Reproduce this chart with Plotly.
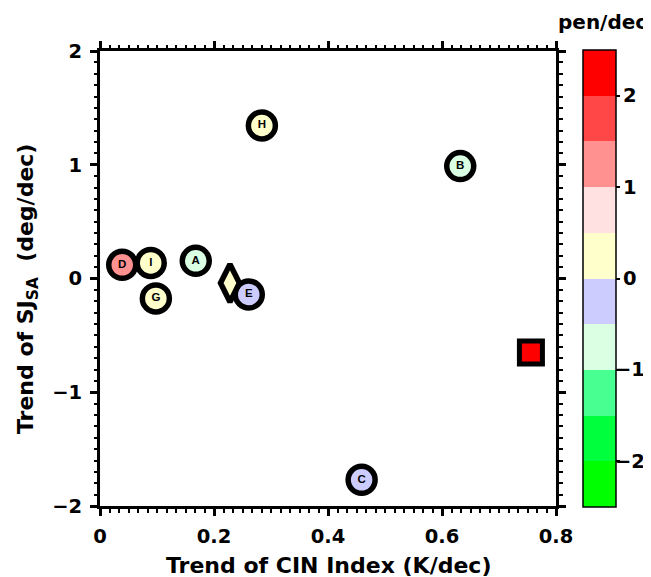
import plotly.graph_objects as go

# Data
circle_labels = ["D", "I", "G", "A", "E", "H", "B", "C"]
circle_x = [0.039, 0.089, 0.098, 0.168, 0.261, 0.284, 0.632, 0.459]
circle_y = [0.12, 0.137, -0.175, 0.155, -0.14, 1.345, 0.988, -1.77]
circle_pen = [1.2, 0.3, 0.2, -0.7, -0.2, 0.35, -0.8, -0.3]

diamond_x = [0.228]
diamond_y = [-0.04]
diamond_pen = [0.25]

square_x = [0.756]
square_y = [-0.65]
square_pen = [2.3]

bin_colors = ["#00FF00", "#00FF3C", "#48FF91", "#DAFFE3", "#CCCCFF",
              "#FFFFCC", "#FFE1E1", "#FF9191", "#FF4747", "#FF0000"]
cbar_ticks = [-2, -1, 0, 1, 2]
cbar_ticktext = ["\u22122", "\u22121", "0", "1", "2"]
x_ticks = [0, 0.2, 0.4, 0.6, 0.8]
x_ticktext = ["0", "0.2", "0.4", "0.6", "0.8"]
y_ticks = [-2, -1, 0, 1, 2]

cmin, cmax = -2.5, 2.5
colorscale = []
n = len(bin_colors)
for i, c in enumerate(bin_colors):
    colorscale.append([i / n, c])
    colorscale.append([(i + 1) / n, c])

FONT = "DejaVu Sans, sans-serif"
LFONT = "Liberation Sans, Arial, sans-serif"

W, H = 643, 569
ML, MR, MT, MB = 92, 95, 43, 71
PW = W - ML - MR
PH = H - MT - MB
CB_LEN = 457


def px(sx):  # screen x (page) -> paper x
    return (sx - (ML + 8)) / PW


def py(sy):  # screen y (page) -> paper y
    return (MT + 8 + PH - sy) / PH


fig = go.Figure()
fig.add_trace(go.Scatter(
    x=circle_x, y=circle_y, mode="markers+text",
    text=circle_labels, textposition="middle center",
    textfont=dict(family=LFONT, size=11.5, color="black", weight="bold"),
    marker=dict(
        symbol="circle", size=27, color=circle_pen, opacity=1,
        colorscale=colorscale, cmin=cmin, cmax=cmax,
        line=dict(color="black", width=5.5),
        showscale=True,
        colorbar=dict(
            tickvals=cbar_ticks, showticklabels=False,
            ticks="outside", ticklen=4, tickwidth=1.5, tickcolor="black",
            thickness=33, lenmode="pixels", len=CB_LEN,
            x=px(583), xanchor="left", y=0.5, yanchor="middle",
            xpad=0, ypad=0, outlinewidth=1.5, outlinecolor="black",
        ),
    ),
    showlegend=False, cliponaxis=False,
))
fig.add_trace(go.Scatter(
    x=diamond_x, y=diamond_y, mode="markers",
    marker=dict(symbol="diamond-tall", size=27, color=diamond_pen, opacity=1,
                colorscale=colorscale, cmin=cmin, cmax=cmax,
                line=dict(color="black", width=5.5)),
    showlegend=False, cliponaxis=False,
))
fig.add_trace(go.Scatter(
    x=square_x, y=square_y, mode="markers",
    marker=dict(symbol="square", size=23, color=square_pen, opacity=1,
                colorscale=colorscale, cmin=cmin, cmax=cmax,
                line=dict(color="black", width=5)),
    showlegend=False, cliponaxis=False,
))

axis_common = dict(
    showline=True, linewidth=3, linecolor="black", mirror="ticks",
    ticks="outside", ticklen=7, tickwidth=2.5, tickcolor="black",
    showgrid=False, zeroline=False,
    tickfont=dict(family=FONT, size=19.5, color="black", weight="bold"),
)

fig.update_xaxes(
    range=[0, 0.8], tickvals=x_ticks, ticktext=x_ticktext,
    ticklabelstandoff=4,
    minor=dict(dtick=0.2 / 12, ticklen=3.5, tickwidth=2, tickcolor="black", ticks="outside"),
    **axis_common,
)
fig.update_yaxes(
    range=[-2, 2], tickvals=y_ticks,
    ticklabelstandoff=4,
    minor=dict(dtick=0.1, ticklen=3.5, tickwidth=2, tickcolor="black", ticks="outside"),
    **axis_common,
)

title_font = dict(family=FONT, size=22, color="black", weight="bold")
fig.add_annotation(
    text="Trend of CIN Index (K/dec)", xref="paper", yref="paper",
    x=px(328), y=py(565), xanchor="center", yanchor="middle",
    showarrow=False, font=title_font,
)
fig.add_annotation(
    text="Trend of SJ<sub>SA</sub>  (deg/dec)", xref="paper", yref="paper",
    x=px(27), y=py(289), xanchor="center", yanchor="middle", textangle=-90,
    showarrow=False, font=title_font,
)
fig.add_annotation(
    text="pen/dec", xref="paper", yref="paper",
    x=px(602), y=py(22), xanchor="center", yanchor="middle",
    showarrow=False, font=dict(family=FONT, size=20, color="black", weight="bold"),
)
# colorbar tick labels, centred as in the reference
cb_center = MT + 8 + PH / 2
for v, t in zip(cbar_ticks, cbar_ticktext):
    sy = cb_center - v / (cmax - cmin) * CB_LEN
    fig.add_annotation(
        text=t, xref="paper", yref="paper",
        x=px(630), y=py(sy), xanchor="center", yanchor="middle",
        showarrow=False, font=dict(family=FONT, size=19.5, color="black", weight="bold"),
    )

fig.update_layout(
    width=W, height=H,
    margin=dict(l=ML, r=MR, t=MT, b=MB, autoexpand=False),
    plot_bgcolor="white", paper_bgcolor="white",
)

fig.write_html("out.html")
